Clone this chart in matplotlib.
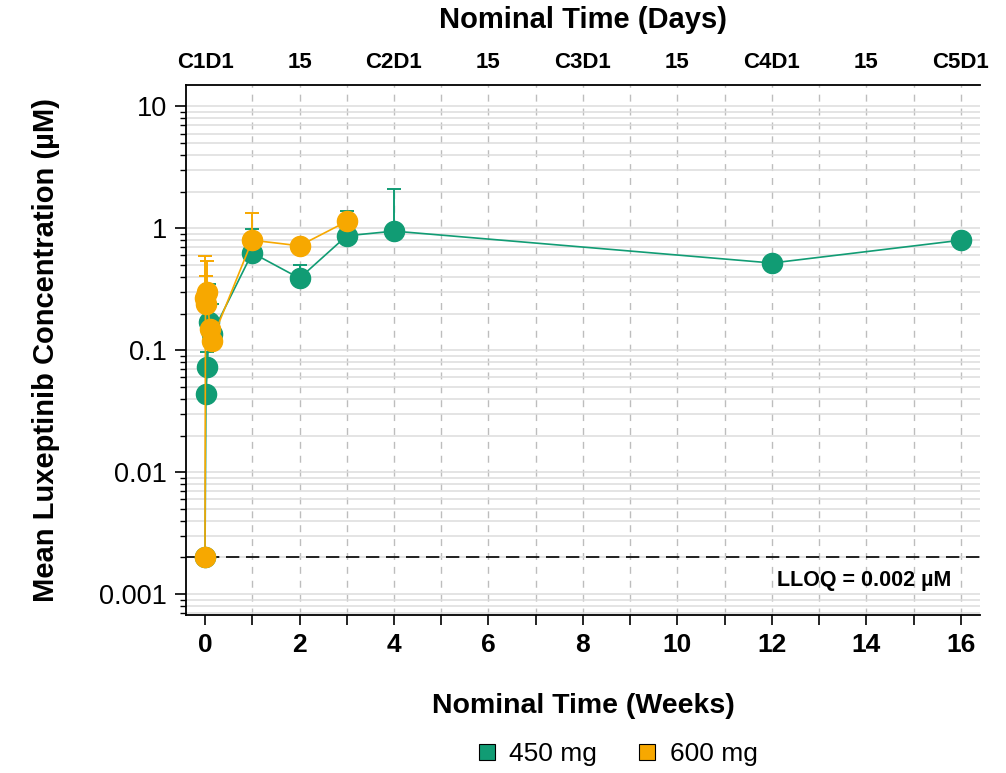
import numpy as np
import matplotlib.pyplot as plt
from matplotlib.lines import Line2D
from matplotlib.ticker import LogLocator, FixedLocator, NullFormatter

plt.rcParams['font.family'] = ['Liberation Sans', 'DejaVu Sans']

# 450 mg group (weeks, mean conc in uM, top of error bar)
weeks_450 = [0, 0.02, 0.05, 0.09, 0.143, 1, 2, 3, 4, 12, 16]
conc_450 = [0.002, 0.044, 0.073, 0.17, 0.135, 0.63, 0.39, 0.87, 0.95, 0.52, 0.80]
upper_450 = [0.002, 0.044, 0.096, 0.35, 0.24, 0.98, 0.50, 1.4, 2.1, 0.52, 0.80]

# 600 mg group
weeks_600 = [0, 0.01, 0.03, 0.05, 0.10, 0.143, 1, 2, 3]
conc_600 = [0.002, 0.27, 0.24, 0.30, 0.15, 0.12, 0.80, 0.72, 1.14]
upper_600 = [0.002, 0.59, 0.41, 0.54, 0.15, 0.12, 1.33, 0.72, 1.14]

top_ticks = [0, 2, 4, 6, 8, 10, 12, 14, 16]
top_labels = ["C1D1", "15", "C2D1", "15", "C3D1", "15", "C4D1", "15", "C5D1"]
lloq = 0.002

green = '#119c74'
orange = '#f7a800'

fig = plt.figure(figsize=(10.06, 7.73), dpi=100)
ax = fig.add_axes([0.185, 0.204, 0.789, 0.686])

ax.set_yscale('log')
ax.set_xlim(-0.4, 16.4)
ax.set_ylim(0.00067, 15)

# grid
ax.yaxis.set_major_locator(LogLocator(base=10, numticks=10))
ax.yaxis.set_minor_locator(LogLocator(base=10, subs=np.arange(2, 10), numticks=20))
ax.yaxis.set_minor_formatter(NullFormatter())
ax.grid(True, which='both', axis='y', color='#dcdcdc', lw=1.1)
for w in range(1, 17):
    ax.axvline(w, color='#bdbdbd', lw=1.0, ls=(0, (5, 5)), zorder=0)

ax.axhline(lloq, color='black', lw=1.2, ls=(0, (8, 4)), zorder=2)
ax.text(15.8, 0.0013, "LLOQ = 0.002 µM", ha='right', va='center',
        fontsize=15.5, fontweight='bold')

for x, y, up, c in [(weeks_450, conc_450, upper_450, green),
                    (weeks_600, conc_600, upper_600, orange)]:
    x = np.array(x)
    y = np.array(y)
    up = np.array(up)
    err = np.vstack([np.zeros_like(y), up - y])
    ax.errorbar(x, y, yerr=err, color=c, lw=1.2, capsize=5, capthick=1.4,
                elinewidth=1.4, marker='o', markersize=14.5, mec=c, zorder=3)

ax.set_xticks(range(0, 17, 2))
ax.xaxis.set_minor_locator(FixedLocator(range(1, 17, 2)))
ax.tick_params(axis='x', which='both', direction='out', length=7, width=1.2,
               labelsize=19, pad=6)
for lab in ax.get_xticklabels():
    lab.set_fontweight('bold')
ax.tick_params(axis='y', which='major', direction='out', length=8, width=1.2,
               labelsize=19.5, pad=6)
ax.tick_params(axis='y', which='minor', direction='out', length=4, width=1.0)
ax.set_yticks([0.001, 0.01, 0.1, 1, 10])
ax.set_yticklabels(["0.001", "0.01", "0.1", "1", "10"])

ax.spines['right'].set_visible(False)
for s in ['left', 'bottom', 'top']:
    ax.spines[s].set_linewidth(1.3)

ax.set_xlabel("Nominal Time (Weeks)", fontsize=20.5, fontweight='bold', labelpad=26)
ax.set_ylabel("Mean Luxeptinib Concentration (µM)", fontsize=21,
              fontweight='bold', labelpad=28)

top = ax.secondary_xaxis('top')
top.set_xticks(top_ticks)
top.set_xticklabels(top_labels)
top.tick_params(length=0, labelsize=16, pad=9)
for lab in top.get_xticklabels():
    lab.set_fontweight('bold')
top.spines['top'].set_visible(False)
top.set_xlabel("Nominal Time (Days)", fontsize=21, fontweight='bold', labelpad=17)

handles = [Line2D([], [], ls='none', marker='s', markersize=12, mfc=green, mec='black', mew=0.8),
           Line2D([], [], ls='none', marker='s', markersize=12, mfc=orange, mec='black', mew=0.8)]
fig.legend(handles, ["450 mg", "600 mg"], loc='center', bbox_to_anchor=(0.612, 0.024),
           ncol=2, frameon=False, fontsize=19, handletextpad=0.35, columnspacing=1.4,
           handlelength=1.0)

fig.savefig('out.png', dpi=100)
